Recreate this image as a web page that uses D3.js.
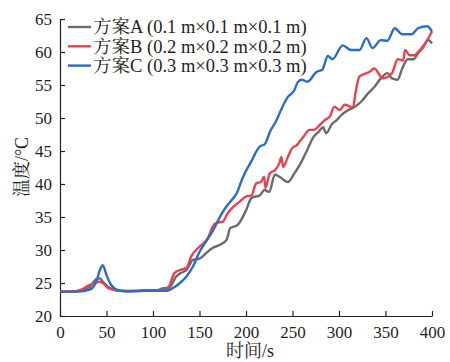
<!DOCTYPE html>
<html>
<head>
<meta charset="utf-8">
<script src="https://cdn.jsdelivr.net/npm/d3@7"></script>
<style>
  body { margin: 0; background: #fff; }
  svg text { font-family: "Liberation Serif", "Noto Serif CJK SC", "Noto Sans CJK SC", serif; fill: #231f20; }
</style>
</head>
<body>
<div id="chart"></div>
<script>
// series data: [time s, temperature °C]
const seriesNames = ['方案A (0.1 m×0.1 m×0.1 m)', '方案B (0.2 m×0.2 m×0.2 m)', '方案C (0.3 m×0.3 m×0.3 m)'];
const seriesColors = ['#6b6b6b', '#e8424d', '#2b6cc4'];

const dataA = [[0,23.7],[10,23.7],[20,23.8],[32,24.4],[39,25.6],[43,25.7],[46,25.2],[52,24.4],[60,23.9],[70,23.8],[80,23.8],[90,23.9],[104,23.9],[111,24.2],[118,24.4],[125,26],[130,26.5],[136,27],[143,28.5],[150,28.7],[157,29.5],[164,30.3],[172,30.8],[179,31.5],[183,33.3],[191,33.8],[200,36],[206,37.9],[215,38.3],[220,39.1],[225,38.8],[231,41.4],[236,41.1],[245,40.3],[252,41.6],[259,43.2],[266,45.2],[272,47],[278,47.9],[283,48.6],[286,47.7],[293,49.2],[297,49.6],[303,50.5],[310,51.2],[317,51.7],[324,52.5],[331,53.7],[338,54.7],[345,56],[352,56.8],[357,56],[363,55.8],[368,57.5],[374,58.9],[380,58.9],[385,59.8],[390,60.6],[396,61.8],[400,61.3]];

const dataB = [[0,23.7],[15,23.7],[21,23.9],[32,24.7],[43,25.2],[46,25],[52,24.2],[60,23.9],[71,23.8],[90,23.8],[105,23.9],[115,23.9],[118,24.7],[123,26.5],[130,27],[136,27.3],[141,29],[150,30.5],[159,31.8],[164,33.5],[168,34.1],[175,34.3],[180,35.5],[186,36.5],[193,37.3],[200,38.1],[206,38.3],[211,40.1],[216,40.3],[219.5,41.1],[221,39.4],[225.5,41.6],[231,42.1],[236,43.2],[238,44.1],[240,42.6],[245,44.1],[250,45.5],[254,45.8],[258,46.5],[263,47.4],[268,48.2],[273,48.2],[279,48.9],[285,49.7],[290,50.2],[295,51.7],[301,51.2],[306,52],[315,51.6],[318,54],[322,56.3],[333,57],[338,57.5],[347,56],[357,56.8],[363,58.9],[369,58.7],[371,60.3],[376,59.5],[381,59.5],[385,60],[390,60.8],[394,61.6],[400,63.1]];

const dataC = [[0,23.7],[20,23.7],[32,24],[39,25.2],[43,27],[46,27.7],[50,26.2],[55,24.7],[61,24],[71,23.7],[90,23.8],[107,23.8],[114,23.8],[121,24.2],[129,25],[136,26],[143,27.5],[150,29.7],[157,31.3],[164,32.8],[173,35.3],[179,36.6],[186,37.8],[190,38.6],[196,40.8],[200,42],[206,43.5],[211,44.9],[215,45.7],[220,46],[226,48],[233,49.7],[236,50.7],[245,53.2],[252,54.2],[256,55.5],[260,55.8],[266,55.5],[276,57],[282,57.3],[288,59.4],[293,58.9],[304,61],[313,60.3],[322,60.3],[329.5,62.1],[336,60.6],[345,61.8],[352,61.7],[360,63.6],[368,62.7],[378,62.7],[385,63.6],[395,63.9],[400,63.1]];

const xTicks = [0, 50, 100, 150, 200, 250, 300, 350, 400];
const yTicks = [20, 25, 30, 35, 40, 45, 50, 55, 60, 65];
const xLabel = '时间/s';
const yLabel = '温度/°C';

const W = 450, H = 362;
const margin = { top: 19, right: 18, bottom: 46, left: 60 };
const width = W - margin.left - margin.right;
const height = H - margin.top - margin.bottom;

const svg = d3.select('#chart').append('svg')
  .attr('width', W)
  .attr('height', H);

const figure = svg.append('g')
  .attr('transform', `translate(${margin.left},${margin.top})`);

const xscale = d3.scaleLinear().domain([0, 400]).range([0, width]);
const yscale = d3.scaleLinear().domain([20, 65]).range([height, 0]);

// axes, ticks point inward
const xAxis = d3.axisBottom(xscale).tickValues(xTicks).tickSizeInner(-5).tickSizeOuter(0).tickPadding(10);
const yAxis = d3.axisLeft(yscale).tickValues(yTicks).tickSizeInner(-5).tickSizeOuter(0).tickPadding(8);

const gx = figure.append('g')
  .attr('class', 'xAxis')
  .attr('transform', `translate(0,${height})`)
  .call(xAxis);
const gy = figure.append('g')
  .attr('class', 'yAxis')
  .call(yAxis);

[gx, gy].forEach(g => {
  g.select('.domain').attr('stroke', '#231f20').attr('stroke-width', 1.2);
  g.selectAll('.tick line').attr('stroke', '#231f20').attr('stroke-width', 1.2);
  g.selectAll('.tick text').style('font-size', '17px').attr('fill', '#231f20');
});

// lines
const line = d3.line()
  .x(d => xscale(d[0]))
  .y(d => yscale(d[1]))
  .curve(d3.curveMonotoneX);

[dataA, dataB, dataC].forEach((data, i) => {
  figure.append('path')
    .datum(data)
    .attr('d', line)
    .attr('fill', 'none')
    .attr('stroke', seriesColors[i])
    .attr('stroke-width', 2.4)
    .attr('stroke-linejoin', 'round');
});

// legend
const legend = figure.append('g').attr('transform', 'translate(8,8)');
seriesNames.forEach((name, i) => {
  const row = legend.append('g').attr('transform', `translate(0,${i * 19.3})`);
  row.append('line')
    .attr('x1', 0).attr('x2', 23)
    .attr('y1', 0).attr('y2', 0)
    .attr('stroke', seriesColors[i])
    .attr('stroke-width', 2.4);
  row.append('text')
    .attr('x', 25)
    .attr('dy', '0.35em')
    .style('font-size', '18.5px')
    .text(name);
});

// xlabel
svg.append('text')
  .attr('x', 250)
  .attr('y', 357)
  .style('text-anchor', 'middle')
  .style('font-size', '18px')
  .text(xLabel);

// ylabel
svg.append('text')
  .attr('transform', 'rotate(-90)')
  .attr('x', -167)
  .attr('y', 22)
  .attr('dy', '0.35em')
  .style('text-anchor', 'middle')
  .style('font-size', '18px')
  .text(yLabel);
</script>
</body>
</html>
